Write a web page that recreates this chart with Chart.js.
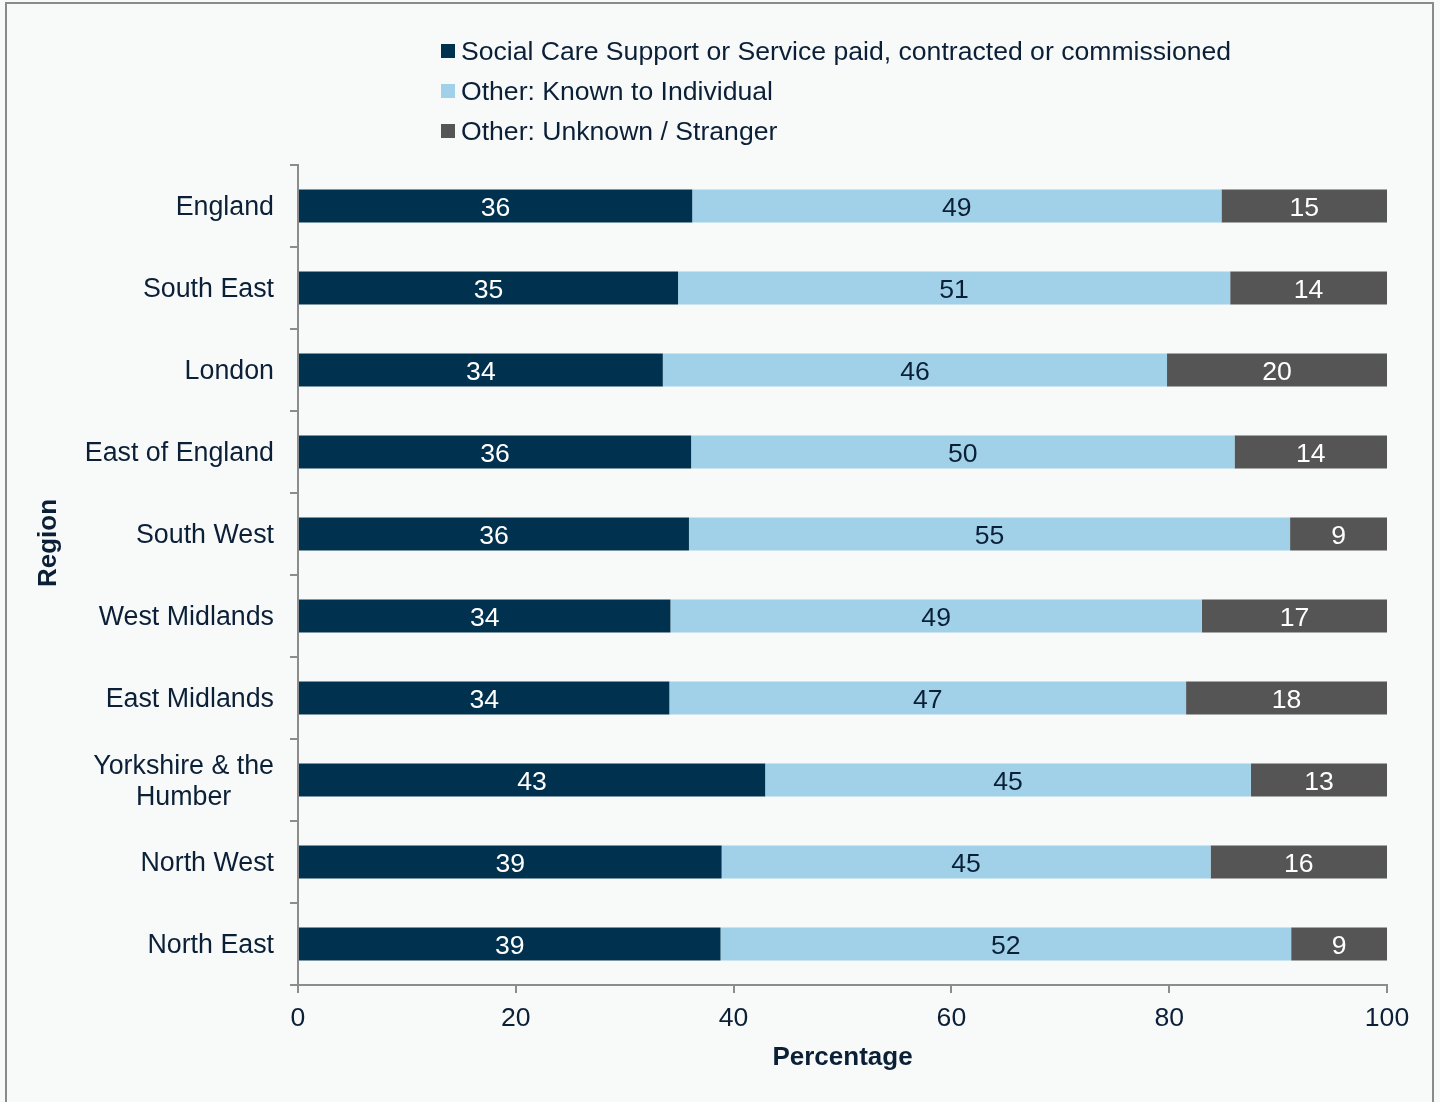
<!DOCTYPE html>
<html lang="en">
<head>
  <meta charset="UTF-8">
  <title>Relationship to alleged perpetrator by region</title>
  <script src="https://cdn.jsdelivr.net/npm/chart.js"></script>
  <style>
    html, body { margin: 0; padding: 0; background: #f8fafa; }
    #wrap { width: 1440px; height: 1102px; position: relative; }
  </style>
</head>
<body>
  <div id="wrap"><canvas id="chart" width="1440" height="1102"></canvas></div>

  <script>
    // Data (percentages, labels are rounded)
    const regions = ['England', 'South East', 'London', 'East of England', 'South West',
      'West Midlands', 'East Midlands', ['Yorkshire & the', 'Humber'], 'North West', 'North East'];
    const socialCare = [36.2, 34.9, 33.5, 36.1, 35.9, 34.2, 34.1, 42.9, 38.9, 38.8];
    const knownToIndividual = [48.6, 50.7, 46.3, 49.9, 55.2, 48.8, 47.45, 44.6, 44.9, 52.4];
    const unknownStranger = [15.2, 14.4, 20.2, 14.0, 8.9, 17.0, 18.45, 12.5, 16.2, 8.8];
    const xTicks = [0, 20, 40, 60, 80, 100];

    const textColor = '#0b2037';
    const axisGrey = '#8c8c8c';
    const fontFamily = '"Liberation Sans", Arial, sans-serif';

    // frame around the chart
    const framePlugin = {
      id: 'frame',
      beforeDraw(chart) {
        const ctx = chart.ctx;
        ctx.save();
        ctx.strokeStyle = '#8a8a8a';
        ctx.lineWidth = 2;
        ctx.strokeRect(6, 3, 1427, 1110);
        ctx.restore();
      }
    };

    // vertical legend at the top
    const legendPlugin = {
      id: 'stackLegend',
      afterDraw(chart) {
        const ctx = chart.ctx;
        ctx.save();
        ctx.font = '26.6px ' + fontFamily;
        ctx.textBaseline = 'middle';
        chart.data.datasets.forEach((ds, i) => {
          const y = 51 + i * 40;
          ctx.fillStyle = ds.backgroundColor;
          ctx.fillRect(441, y - 7, 14, 14);
          ctx.fillStyle = textColor;
          ctx.fillText(ds.label, 461, y + 2);
        });
        ctx.restore();
      }
    };

    // y tick labels (multi-line labels centred on each other) and axis title
    const yLabelPlugin = {
      id: 'yLabels',
      afterDraw(chart) {
        const ctx = chart.ctx;
        const scale = chart.scales.y;
        ctx.save();
        ctx.font = '26.8px ' + fontFamily;
        ctx.fillStyle = textColor;
        ctx.textBaseline = 'middle';
        ctx.textAlign = 'center';
        const right = scale.right - 24;
        regions.forEach((lab, i) => {
          const y = scale.getPixelForValue(i);
          const lines = Array.isArray(lab) ? lab : [lab];
          const w = Math.max(...lines.map(l => ctx.measureText(l).width));
          const lh = 31;
          lines.forEach((l, j) => {
            ctx.fillText(l, right - w / 2, y + (j - (lines.length - 1) / 2) * lh + 2);
          });
        });
        // axis title
        ctx.translate(48, 543);
        ctx.rotate(-Math.PI / 2);
        ctx.font = 'bold 26px ' + fontFamily;
        ctx.fillText('Region', 0, 1);
        ctx.restore();
      }
    };

    // value labels in the middle of each segment
    const valuePlugin = {
      id: 'values',
      afterDatasetsDraw(chart) {
        const ctx = chart.ctx;
        ctx.save();
        ctx.font = '26.6px ' + fontFamily;
        ctx.textAlign = 'center';
        ctx.textBaseline = 'middle';
        chart.data.datasets.forEach((ds, i) => {
          const meta = chart.getDatasetMeta(i);
          meta.data.forEach((bar, j) => {
            ctx.fillStyle = ds.labelColor;
            ctx.fillText(Math.round(ds.data[j]), (bar.x + bar.base) / 2, bar.y + 3);
          });
        });
        ctx.restore();
      }
    };

    new Chart(document.getElementById('chart'), {
      type: 'bar',
      data: {
        labels: regions,
        datasets: [
          { label: 'Social Care Support or Service paid, contracted or commissioned', data: socialCare, backgroundColor: '#00324f', labelColor: '#ffffff' },
          { label: 'Other: Known to Individual', data: knownToIndividual, backgroundColor: '#a0d1e8', labelColor: textColor },
          { label: 'Other: Unknown / Stranger', data: unknownStranger, backgroundColor: '#555555', labelColor: '#ffffff' }
        ]
      },
      options: {
        indexAxis: 'y',
        responsive: false,
        animation: false,
        layout: { padding: { top: 165, right: 53, left: 0, bottom: 0 } },
        datasets: { bar: { categoryPercentage: 1, barPercentage: 0.4 } },
        plugins: { legend: { display: false }, tooltip: { enabled: false } },
        scales: {
          x: {
            stacked: true,
            min: 0,
            max: 100,
            afterFit: s => { s.height = 117; },
            afterBuildTicks: s => { s.ticks = xTicks.map(v => ({ value: v })); },
            grid: { drawOnChartArea: false, tickLength: 8, color: axisGrey, lineWidth: 2 },
            border: { color: axisGrey, width: 2 },
            ticks: { color: textColor, font: { size: 26.6, family: fontFamily }, padding: 10, maxRotation: 0 },
            title: { display: true, text: 'Percentage', color: textColor, font: { size: 26, weight: 'bold', family: fontFamily }, padding: { top: 0, bottom: 29 } }
          },
          y: {
            stacked: true,
            afterFit: s => { s.width = 298; },
            grid: { drawOnChartArea: false, tickLength: 8, color: axisGrey, lineWidth: 2, offset: true },
            border: { color: axisGrey, width: 2 },
            ticks: { display: false },
            title: { display: false }
          }
        }
      },
      plugins: [framePlugin, legendPlugin, yLabelPlugin, valuePlugin]
    });
  </script>
</body>
</html>
